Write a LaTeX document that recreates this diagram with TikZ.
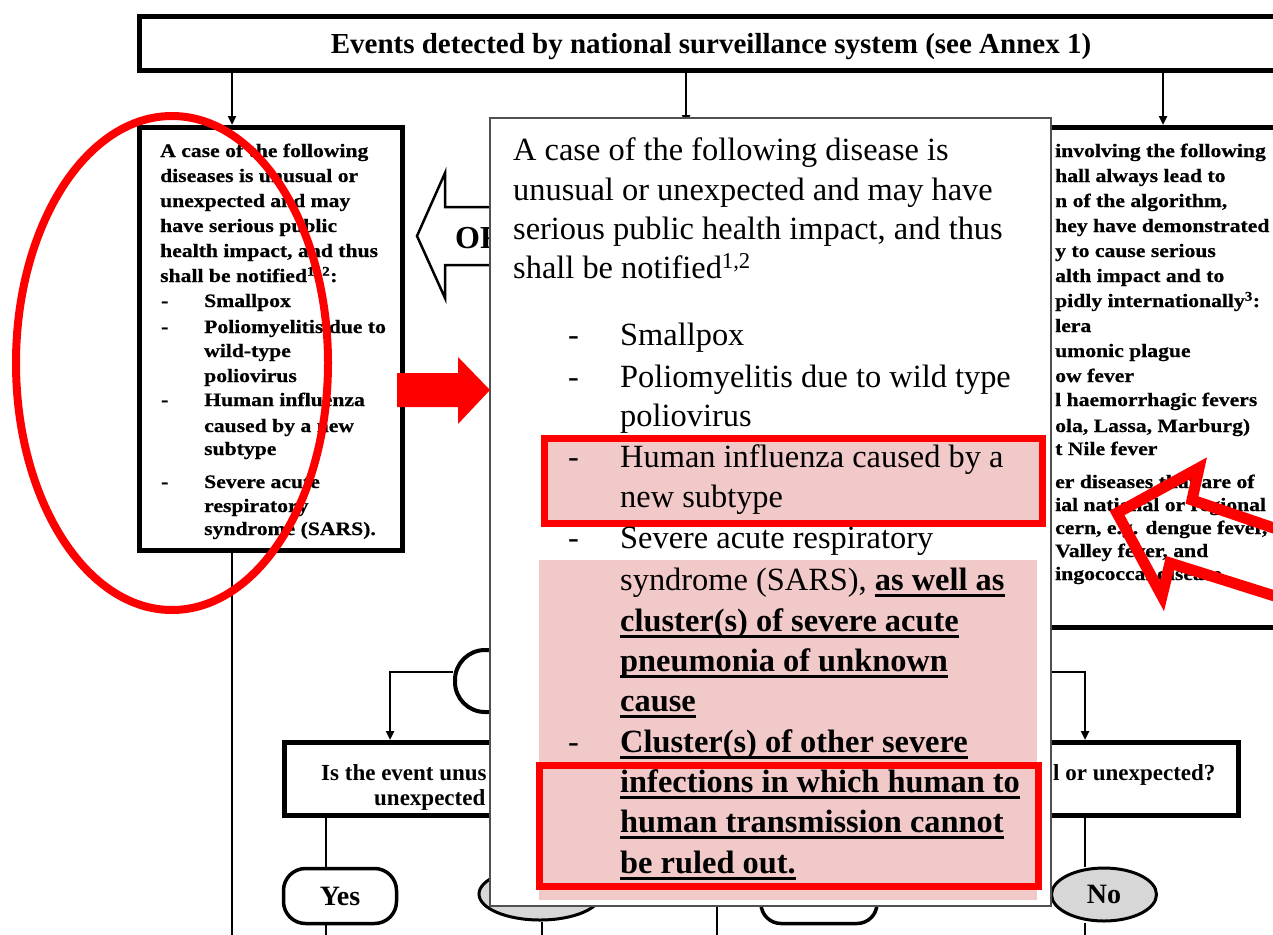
\documentclass[tikz,border=0pt]{standalone}
\usepackage{fontspec}
\setmainfont{Liberation Serif}
\newfontfamily\boxfont[FakeStretch=1.14, BoldFeatures={FakeBold=0.6}]{Liberation Serif}
\usetikzlibrary{arrows.meta,shapes.geometric}
\definecolor{hlpink}{RGB}{242,201,201}
\definecolor{redmark}{RGB}{255,0,0}
\definecolor{greyfill}{RGB}{215,215,215}
\definecolor{popedge}{RGB}{80,80,80}
\newsavebox{\myulbox}
\newcommand{\myul}[1]{\sbox{\myulbox}{#1}\rlap{\rule[-6.5pt]{\wd\myulbox}{2.6pt}}\usebox{\myulbox}}
\begin{document}
\begin{tikzpicture}[x=1pt,y=-1pt,
  frame/.style={draw=black, line width=5pt, fill=white, inner sep=0pt},
  conn/.style={draw=black, line width=2.6pt},
  arr/.style={conn, -{Triangle[length=9pt,width=8pt]}},
  smallbold/.style={anchor=base west, inner sep=0pt, font=\boxfont\bfseries\fontsize{19}{25}\selectfont},
  poptext/.style={anchor=base west, inner sep=0pt, font=\fontsize{32.4}{40}\selectfont},
  popbold/.style={anchor=base west, inner sep=0pt, font=\bfseries\fontsize{32.4}{40}\selectfont},
  qtext/.style={anchor=base west, inner sep=0pt, font=\bfseries\fontsize{23}{28}\selectfont},
  termbox/.style={draw=black, line width=3.5pt, fill=white, inner sep=0pt, font=\bfseries\fontsize{28}{32}\selectfont},
  greyoval/.style={ellipse, draw=black, line width=3pt, fill=greyfill, inner sep=0pt, font=\bfseries\fontsize{28}{32}\selectfont},
  redline/.style={draw=redmark, line width=8pt},
]
\useasboundingbox (0,0) rectangle (1273,934);
\fill[white] (0,0) rectangle (1273,934);
\begin{scope}
\clip (0,0) rectangle (1273,934);

% helper coordinates
\coordinate (a1) at (232,0);
\coordinate (a2) at (686,0);
\coordinate (a3) at (1163,0);
\coordinate (m2) at (686,124);
\coordinate (yl) at (0,672);
\coordinate (xl) at (390,0);
\coordinate (xr) at (1085,0);
\coordinate (xy) at (326,0);
\coordinate (xn) at (542,0);
\coordinate (bot) at (0,945);
\coordinate (vm1) at (717,880);
\coordinate (vm2) at (717,945);

% top box
\node[frame, minimum width=1143pt, minimum height=54pt, text height=22pt, text depth=3pt,
      font=\bfseries\fontsize{29}{34}\selectfont] (top) at (711,43.5)
      {Events detected by national surveillance system (see Annex 1)};

% left box
\node[frame, minimum width=263pt, minimum height=423pt] (lbox) at (271,339) {};
% right box
\node[frame, minimum width=320pt, minimum height=500pt] (rbox) at (1127.5,377.5) {};

% arrows from top box
\draw[arr] (top.south -| a1) -- (lbox.north -| a1);
\draw[arr] (top.south -| a2) -- (m2);
\draw[arr] (top.south -| a3) -- (rbox.north -| a3);

% left box text
\node[smallbold] (l1) at (160,157) {A case of the following};
\node[smallbold] (l2) at (160,182) {diseases is unusual or};
\node[smallbold] (l3) at (160,207) {unexpected and may};
\node[smallbold] (l4) at (160,232) {have serious public};
\node[smallbold] (l5) at (160,257) {health impact, and thus};
\node[smallbold] (l6) at (160,282) {shall be notified\textsuperscript{1, 2}:};
\node[smallbold] (l7d) at (161,307) {-};
\node[smallbold] (l7) at (204,307) {Smallpox};
\node[smallbold] (l8d) at (161,333) {-};
\node[smallbold] (l8) at (204,333) {Poliomyelitis due to};
\node[smallbold] (l9) at (204,357) {wild-type};
\node[smallbold] (l10) at (204,382) {poliovirus};
\node[smallbold] (l11d) at (161,406) {-};
\node[smallbold] (l11) at (204,406) {Human influenza};
\node[smallbold] (l12) at (204,432) {caused by a new};
\node[smallbold] (l13) at (204,455) {subtype};
\node[smallbold] (l14d) at (161,488) {-};
\node[smallbold] (l14) at (204,488) {Severe acute};
\node[smallbold] (l15) at (204,512) {respiratory};
\node[smallbold] (l16) at (204,535) {syndrome (SARS).};

% right box text (visible parts)
\node[smallbold] (r1) at (1055,157) {involving the following};
\node[smallbold] (r2) at (1055,182) {hall always lead to};
\node[smallbold] (r3) at (1055,207) {n of the algorithm,};
\node[smallbold] (r4) at (1055,232) {hey have demonstrated};
\node[smallbold] (r5) at (1055,257) {y to cause serious};
\node[smallbold] (r6) at (1055,282) {alth impact and to};
\node[smallbold] (r7) at (1055,307) {pidly internationally\textsuperscript{3}:};
\node[smallbold] (r8) at (1055,332) {lera};
\node[smallbold] (r9) at (1055,357) {umonic plague};
\node[smallbold] (r10) at (1055,382) {ow fever};
\node[smallbold] (r11) at (1055,406) {l haemorrhagic fevers};
\node[smallbold] (r12) at (1055,432) {ola, Lassa, Marburg)};
\node[smallbold] (r13) at (1055,455) {t Nile fever};
\node[smallbold] (r14) at (1055,488) {er diseases that are of};
\node[smallbold] (r15) at (1055,511) {ial national or regional};
\node[smallbold] (r16) at (1055,534) {cern, e.g. dengue fever,};
\node[smallbold] (r17) at (1055,557) {Valley fever, and};
\node[smallbold] (r18) at (1055,580) {ingococcal disease.};

% OR arrow
\draw[black, line width=2.5pt, fill=white, line join=miter]
  (600,207) -- (445,207) -- (445,173) -- (417,236) -- (445,298) -- (445,265) -- (600,265) -- cycle;
\node[anchor=base west, inner sep=0pt, font=\bfseries\fontsize{32}{36}\selectfont] (ortext) at (455,248) {OR};

% lower flowchart
\node[draw=black, line width=4pt, fill=white, rounded corners=30pt,
      minimum width=500pt, minimum height=62pt, inner sep=0pt] (q1) at (705,681) {};
\node[frame, minimum width=433pt, minimum height=73pt] (decl) at (501,779) {};
\node[frame, minimum width=416pt, minimum height=73pt] (decr) at (1030.5,779) {};
\draw[arr] (q1.west |- yl) -| (decl.north -| xl);
\draw[arr] (q1.east |- yl) -| (decr.north -| xr);
\node[qtext] (ql1) at (321,780) {Is the event unus};
\node[qtext] (ql2) at (374,805) {unexpected};
\node[qtext] (qr1) at (1053,780) {l or unexpected?};

\node[termbox, rounded corners=22pt, minimum width=113pt, minimum height=55pt] (yes1) at (340,896) {Yes};
\node[greyoval, minimum width=122pt, minimum height=52pt] (no1) at (540,894) {};
\node[termbox, rounded corners=20pt, minimum width=116pt, minimum height=59pt] (yes2) at (819,894) {};
\node[greyoval, minimum width=105pt, minimum height=53pt] (no2) at (1104,894.5) {No};

\draw[conn] (decl.south -| xy) -- (yes1.north -| xy);
\draw[conn] (yes1.south -| xy) -- (xy |- bot);
\draw[conn] (no1.south -| xn) -- (xn |- bot);
\draw[conn] (vm1) -- (vm2);
\draw[conn] (decr.south -| xr) -- (no2.north -| xr);
\draw[conn] (no2.south -| xr) -- (xr |- bot);
\draw[conn] (lbox.south -| a1) -- (a1 |- bot);

% popup
\node[draw=popedge, line width=1.8pt, fill=white, inner sep=0pt,
      minimum width=561pt, minimum height=788pt] (popup) at (770.5,512) {};
\node[fill=hlpink, inner sep=0pt, minimum width=498pt, minimum height=340pt] (hlB) at (788,730) {};
\node[draw=redmark, line width=7pt, fill=hlpink, inner sep=0pt,
      minimum width=498pt, minimum height=85pt] (hlA) at (793.5,481) {};
\node[draw=redmark, line width=7pt, inner sep=0pt,
      minimum width=499pt, minimum height=121pt] (hlC) at (789,826) {};

\node[poptext] (p1) at (513,160) {A case of the following disease is};
\node[poptext] (p2) at (513,200) {unusual or unexpected and may have};
\node[poptext] (p3) at (513,239) {serious public health impact, and thus};
\node[poptext] (p4) at (513,278) {shall be notified\textsuperscript{1,2}};
\node[poptext] (d1) at (568,345) {-};
\node[poptext] (i1) at (620,345) {Smallpox};
\node[poptext] (d2) at (568,387) {-};
\node[poptext] (i2) at (620,387) {Poliomyelitis due to wild type};
\node[poptext] (i3) at (620,426) {poliovirus};
\node[poptext] (d3) at (568,467) {-};
\node[poptext] (i4) at (620,467) {Human influenza caused by a};
\node[poptext] (i5) at (620,507) {new subtype};
\node[poptext] (d4) at (568,548) {-};
\node[poptext] (i6) at (620,548) {Severe acute respiratory};
\node[poptext] (i7) at (620,590) {syndrome (SARS), \textbf{\myul{as well as}}};
\node[popbold] (i8) at (620,631) {\myul{cluster(s) of severe acute}};
\node[popbold] (i9) at (620,671) {\myul{pneumonia of unknown}};
\node[popbold] (i10) at (620,711) {\myul{cause}};
\node[poptext] (d5) at (568,752) {-};
\node[popbold] (i11) at (620,752) {\myul{Cluster(s) of other severe}};
\node[popbold] (i12) at (620,792) {\myul{infections in which human to}};
\node[popbold] (i13) at (620,832) {\myul{human transmission cannot}};
\node[popbold] (i14) at (620,873) {\myul{be ruled out.}};

% red marks
\draw[redline] (172,363) ellipse [x radius=156, y radius=247];
\fill[redmark] (397,373) -- (458,373) -- (458,357) -- (490,390) -- (458,424) -- (458,407) -- (397,407) -- cycle;
\draw[redmark, line width=11pt, line join=miter]
  (1300,537) -- (1192,500) -- (1199,468) -- (1117,513) -- (1162,596) -- (1170,563) -- (1300,604);
\end{scope}
\end{tikzpicture}
\end{document}
